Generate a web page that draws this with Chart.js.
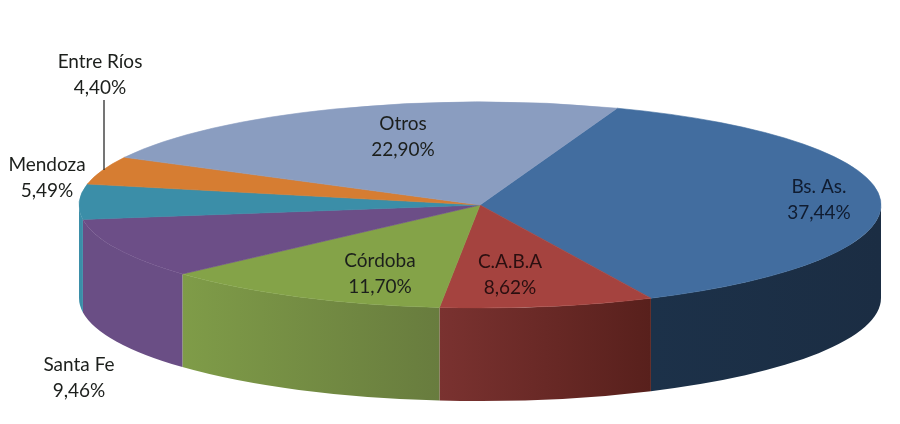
<!DOCTYPE html>
<html>
<head>
<meta charset="utf-8">
<style>
  html, body { margin: 0; background: #ffffff; }
  canvas { display: block; }
</style>
</head>
<body>
<canvas id="pie3d" width="900" height="424"></canvas>
<script src="https://cdn.jsdelivr.net/npm/chart.js@4"></script>
<script>
// Data
const provinces = ['Bs. As.', 'C.A.B.A', 'Córdoba', 'Santa Fe', 'Mendoza', 'Entre Ríos', 'Otros'];
const shares = [37.44, 8.62, 11.70, 9.46, 5.49, 4.40, 22.90];

// Colours of the top face and of the side wall (left and right end of the wall)
const topColors = ['#426d9f', '#a5433f', '#84a348', '#6c4e87', '#3b8ea8', '#d67d32', '#8a9dc0'];
const sideLeft = ['#1c3149', '#7a3230', '#7f9c48', '#6a4e85', '#3b8ea8', '#d67d32', '#8a9dc0'];
const sideRight = ['#1b2d43', '#58201c', '#687c3e', '#6a4e85', '#3b8ea8', '#d67d32', '#8a9dc0'];

// Where the label of each slice is centred (first line)
const labelX = [819, 510, 380, 79, 47, 100, 403];
const labelY = [187, 262, 261, 365, 165, 62, 124];

// Shape of the tilted pie
const centerX = 480;
const centerY = 205;
const radiusX = 401;
const radiusY = 103;
const depth = 93;
const firstAngle = 20;

// Draws the side wall, then squashes the library's pie into an ellipse
const tiltPlugin = {
    id: 'tilt',
    beforeDatasetsDraw(chart) {
        const ctx = chart.ctx;
        const arcs = chart.getDatasetMeta(0).data;

        arcs.forEach((arc, i) => {
            // Only the part of a slice facing the viewer (0 to PI) has a wall
            [0, 2 * Math.PI].forEach(shift => {
                const from = Math.max(arc.startAngle, shift);
                const to = Math.min(arc.endAngle, shift + Math.PI);
                if (to <= from) return;

                const x1 = centerX + radiusX * Math.cos(from);
                const x2 = centerX + radiusX * Math.cos(to);
                const gradient = ctx.createLinearGradient(x2, 0, x1, 0);
                gradient.addColorStop(0, sideLeft[i]);
                gradient.addColorStop(1, sideRight[i]);

                ctx.beginPath();
                ctx.ellipse(centerX, centerY, radiusX, radiusY, 0, from, to);
                ctx.ellipse(centerX, centerY + depth, radiusX, radiusY, 0, to, from, true);
                ctx.closePath();
                ctx.fillStyle = gradient;
                ctx.fill();
            });
        });

        const first = arcs[0];
        ctx.save();
        ctx.translate(centerX, centerY);
        ctx.scale(radiusX / first.outerRadius, radiusY / first.outerRadius);
        ctx.translate(-first.x, -first.y);
    },
    afterDatasetsDraw(chart) {
        chart.ctx.restore();
    },
    afterDraw(chart) {
        const ctx = chart.ctx;

        // Leader line of Entre Ríos
        ctx.strokeStyle = '#2b2b2b';
        ctx.lineWidth = 1.3;
        ctx.beginPath();
        ctx.moveTo(104, 100);
        ctx.lineTo(104, 170);
        ctx.stroke();

        ctx.font = '19px Lato';
        ctx.textAlign = 'center';
        ctx.textBaseline = 'middle';
        provinces.forEach((name, i) => {
            ctx.fillStyle = i === 0 ? '#101c30' : (i === 1 ? '#2a0f10' : '#1c1f1c');
            ctx.fillText(name, labelX[i], labelY[i]);
            ctx.fillText(shares[i].toFixed(2).replace('.', ',') + '%', labelX[i], labelY[i] + 26);
        });
    }
};

new Chart(document.getElementById('pie3d'), {
    type: 'pie',
    data: {
        labels: provinces,
        datasets: [{
            data: shares,
            backgroundColor: topColors,
            borderColor: topColors,
            borderWidth: 0.5
        }]
    },
    options: {
        responsive: false,
        animation: false,
        rotation: firstAngle,
        plugins: {
            legend: { display: false },
            tooltip: { enabled: false }
        }
    },
    plugins: [tiltPlugin]
});
</script>
</body>
</html>
